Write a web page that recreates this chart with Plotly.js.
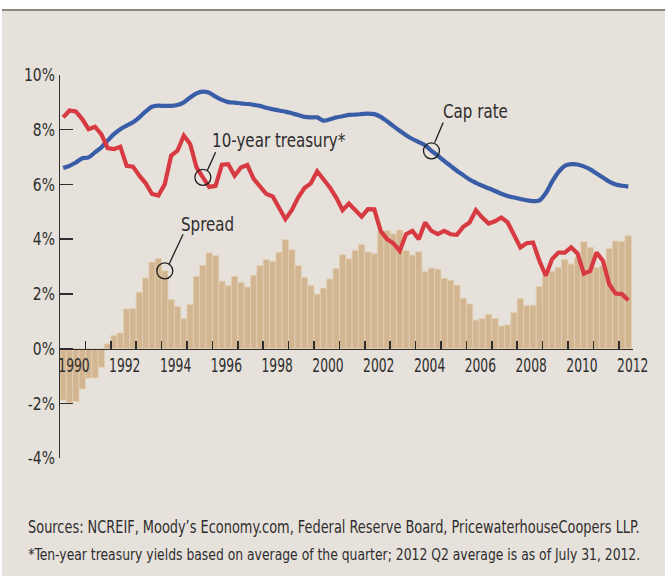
<!DOCTYPE html>
<html><head><meta charset="utf-8">
<script src="https://cdn.plot.ly/plotly-3.0.1.min.js"></script>
<style>html,body{margin:0;padding:0;background:#fff;} #chart{width:665px;height:576px;}</style>
</head><body><div id="chart"></div>
<script>
// ---- data ----
const years = [1990,1991,1992,1993,1994,1995,1996,1997,1998,1999,2000,2001,2002,2003,2004,2005,2006,2007,2008,2009,2010,2011,2012];
const quarterLabels = ['Q1','Q2','Q3','Q4'];
const lastYearQuarters = 2; // data ends 2012 Q2
const xTickLabels = ['1990','1992','1994','1996','1998','2000','2002','2004','2006','2008','2010','2012'];
const yTickVals = [-4,-2,0,2,4,6,8,10];
const yTickText = ['-4%','-2%','0%','2%','4%','6%','8%','10%'];

const spread = [
 -1.88,-1.98,-1.94,-1.48,
 -1.08,-1.07,-0.68,0.17,
 0.48,0.57,1.45,1.46,
 2.06,2.58,3.16,3.29,
 2.84,1.79,1.54,1.09,
 1.61,2.64,3.04,3.50,
 3.40,2.46,2.30,2.64,
 2.42,2.25,2.68,3.03,
 3.25,3.19,3.52,3.98,
 3.61,3.03,2.60,2.30,
 1.99,2.21,2.54,2.93,
 3.43,3.28,3.59,3.80,
 3.53,3.47,4.27,4.31,
 4.19,4.33,3.58,3.42,
 3.54,2.82,2.94,2.90,
 2.57,2.50,2.32,1.84,
 1.63,1.04,1.10,1.25,
 1.10,0.82,0.86,1.31,
 1.83,1.58,1.58,2.27,
 2.65,2.83,2.97,3.26,
 3.09,3.32,3.91,3.70,
 2.96,3.02,3.65,3.93,
 3.92,4.12];

const capRate = [
 6.60,6.68,6.80,6.96,
 6.99,7.17,7.35,7.60,
 7.84,8.02,8.15,8.27,
 8.45,8.67,8.84,8.88,
 8.87,8.87,8.90,9.00,
 9.18,9.33,9.39,9.35,
 9.21,9.09,9.01,8.99,
 8.96,8.94,8.91,8.87,
 8.80,8.75,8.70,8.66,
 8.60,8.54,8.47,8.45,
 8.45,8.33,8.38,8.45,
 8.49,8.54,8.55,8.57,
 8.59,8.57,8.47,8.31,
 8.13,7.96,7.80,7.66,
 7.55,7.43,7.23,7.05,
 6.86,6.68,6.50,6.34,
 6.18,6.06,5.95,5.86,
 5.76,5.66,5.58,5.52,
 5.47,5.42,5.39,5.42,
 5.68,6.10,6.45,6.68,
 6.74,6.73,6.66,6.55,
 6.40,6.25,6.10,6.00,
 5.95,5.92];

const treasury = [
 8.45,8.70,8.67,8.39,
 8.02,8.11,7.84,7.33,
 7.29,7.38,6.68,6.65,
 6.32,6.04,5.65,5.59,
 6.01,7.05,7.23,7.78,
 7.48,6.62,6.26,5.91,
 5.95,6.72,6.74,6.32,
 6.62,6.71,6.20,5.91,
 5.65,5.56,5.13,4.73,
 5.06,5.52,5.87,6.04,
 6.48,6.20,5.89,5.52,
 5.06,5.30,5.06,4.82,
 5.10,5.09,4.30,4.00,
 3.85,3.57,4.18,4.30,
 4.00,4.61,4.30,4.18,
 4.30,4.18,4.16,4.45,
 4.61,5.06,4.79,4.57,
 4.65,4.79,4.61,4.18,
 3.70,3.85,3.88,3.21,
 2.66,3.27,3.51,3.51,
 3.70,3.48,2.74,2.84,
 3.51,3.21,2.35,2.01,
 1.99,1.77];

// ---- quarter categories -> numeric positions on the time axis ----
const qYear = [], qIdx = [];
years.forEach((y, yi) => {
  const n = (yi === years.length - 1) ? lastYearQuarters : 4;
  for (let q = 0; q < n; q++) { qYear.push(y); qIdx.push(q); }
});
const xq = qYear.map((y, i) => y + qIdx[i] / 4 + 0.125);

// ---- page geometry ----
const W = 665, H = 576, M = {l: 60, r: 32, t: 75, b: 118};
const pw = W - M.l - M.r, ph = H - M.t - M.b;
const pxX = p => (p - M.l) / pw;
const pxY = p => (H - M.b - p) / ph;

const FONT = "'DejaVu Sans Condensed', 'DejaVu Sans', sans-serif";
const INK = '#2e2e2e';
const BG = '#e6e1db';
const RED = '#d83a42';
const BLUE = '#3a5da7';

const yRange = [-4, 10];
const xRange = [years[0], years[years.length - 1] + 0.56];
const zeroPos = (0 - yRange[0]) / (yRange[1] - yRange[0]);

const traces = [
  {type: 'bar', x: xq, y: spread, width: 0.25, hoverinfo: 'none', textposition: 'none',
   marker: {color: '#d2b591', line: {color: '#e3cfb3', width: 0.8}}, showlegend: false},
  {type: 'scatter', mode: 'lines', x: xq, y: capRate, xaxis: 'x2', line: {color: BLUE, width: 4.2, shape: 'spline', smoothing: 0.8}, showlegend: false},
  {type: 'scatter', mode: 'lines', x: xq, y: treasury, xaxis: 'x2', line: {color: RED, width: 4.2}, showlegend: false}
];

// annotation anchors on the data
const iCap = 58, iTr = 22, iSp = 16;
const circ = (xr, x, y) => ({type: 'circle', xref: xr, yref: 'y', xsizemode: 'pixel', ysizemode: 'pixel',
  xanchor: x, yanchor: y, x0: -8, x1: 8, y0: -8, y1: 8, line: {color: '#1e1e1e', width: 1.3}, fillcolor: 'rgba(0,0,0,0)'});
const lead = (xr, x, y, a, b, c, d) => ({type: 'line', xref: xr, yref: 'y', xsizemode: 'pixel', ysizemode: 'pixel',
  xanchor: x, yanchor: y, x0: a, y0: b, x1: c, y1: d, line: {color: '#1e1e1e', width: 1.3}});

const shapes = [
  {type: 'rect', xref: 'paper', yref: 'paper', x0: pxX(2), x1: pxX(666), y0: pxY(10.5), y1: pxY(577), fillcolor: BG, line: {width: 0}, layer: 'below'},
  {type: 'line', xref: 'paper', yref: 'paper', x0: pxX(2), x1: pxX(666), y0: pxY(10), y1: pxY(10), line: {color: '#8d847b', width: 2}, layer: 'below'},
  circ('x', xq[iCap], capRate[iCap]), lead('x', xq[iCap], capRate[iCap], 3.3, 8.4, 11.7, 28.4),
  circ('x', xq[iTr], treasury[iTr]), lead('x', xq[iTr], treasury[iTr], 4.4, 6.7, 12.7, 25),
  circ('x', xq[iSp], spread[iSp]), lead('x', xq[iSp], spread[iSp], 4.3, 6.7, 18.3, 36.7)
];

const annotations = [
  {x: xq[iCap], y: capRate[iCap], xref: 'x', yref: 'y', text: 'Cap rate', showarrow: false, xanchor: 'left', yanchor: 'middle', xshift: 10, yshift: 40, font: {family: FONT, size: 20, color: INK}},
  {x: xq[iTr], y: treasury[iTr], xref: 'x', yref: 'y', text: '10-year treasury*', showarrow: false, xanchor: 'left', yanchor: 'middle', xshift: 7, yshift: 37, font: {family: FONT, size: 20, color: INK}},
  {x: xq[iSp], y: spread[iSp], xref: 'x', yref: 'y', text: 'Spread', showarrow: false, xanchor: 'left', yanchor: 'middle', xshift: 14, yshift: 47, font: {family: FONT, size: 20, color: INK}},
  {x: pxX(26), y: pxY(527), xref: 'paper', yref: 'paper', xanchor: 'left', yanchor: 'middle', showarrow: false,
   text: 'Sources: NCREIF, Moody\u2019s Economy.com, Federal Reserve Board, PricewaterhouseCoopers LLP.', font: {family: FONT, size: 17.1, color: INK}},
  {x: pxX(26), y: pxY(554), xref: 'paper', yref: 'paper', xanchor: 'left', yanchor: 'middle', showarrow: false,
   text: '*Ten-year treasury yields based on average of the quarter; 2012 Q2 average is as of July 31, 2012.', font: {family: FONT, size: 16.4, color: INK}}
];

const evenYears = years.filter(y => y % 2 === 0);
const layout = {
  width: W, height: H, margin: M,
  paper_bgcolor: '#ffffff', plot_bgcolor: BG,
  bargap: 0, showlegend: false,
  font: {family: FONT, color: INK},
  xaxis: {range: xRange, anchor: 'free', position: zeroPos,
    tickmode: 'array', tickvals: years.slice(1), ticks: 'inside', ticklen: 8, tickwidth: 1.5, tickcolor: INK,
    showticklabels: false,
    showline: true, linecolor: INK, linewidth: 1.5, showgrid: false, zeroline: false},
  xaxis2: {range: xRange, overlaying: 'x', anchor: 'free', position: zeroPos,
    tickmode: 'array', tickvals: evenYears.map(y => y + 0.55), ticktext: xTickLabels, ticks: '',
    ticklabelstandoff: 3, showline: false, showgrid: false, zeroline: false,
    tickfont: {family: FONT, size: 19, color: INK}},
  yaxis: {range: yRange, tickmode: 'array', tickvals: yTickVals, ticktext: yTickText,
    ticks: 'inside', ticklen: 13, tickwidth: 1.5, tickcolor: INK,
    showline: true, linecolor: INK, linewidth: 1.5, showgrid: false, zeroline: false,
    tickfont: {family: FONT, size: 18, color: INK}},
  shapes: shapes, annotations: annotations
};

// narrow the texts horizontally to mimic the condensed type of the original
function condense(nodes, f, pivot) {
  nodes.forEach(t => {
    let bb;
    try { bb = t.getBBox(); } catch (e) { return; }
    if (!bb || !bb.width) return;
    const px = pivot === 'left' ? bb.x : pivot === 'right' ? bb.x + bb.width : bb.x + bb.width / 2;
    const prev = t.getAttribute('transform') || '';
    t.setAttribute('transform', (prev + ' translate(' + px + ',0) scale(' + f + ',1) translate(' + (-px) + ',0)').trim());
  });
}

Plotly.newPlot('chart', traces, layout, {displayModeBar: false, staticPlot: true}).then(gd => {
  const q = s => Array.from(gd.querySelectorAll(s));
  condense(q('g.x2tick text'), 0.72, 'middle');
  condense(q('g.ytick text'), 0.86, 'right');
  condense(q('text.annotation-text'), 0.84, 'left');
});
</script>
</body></html>
